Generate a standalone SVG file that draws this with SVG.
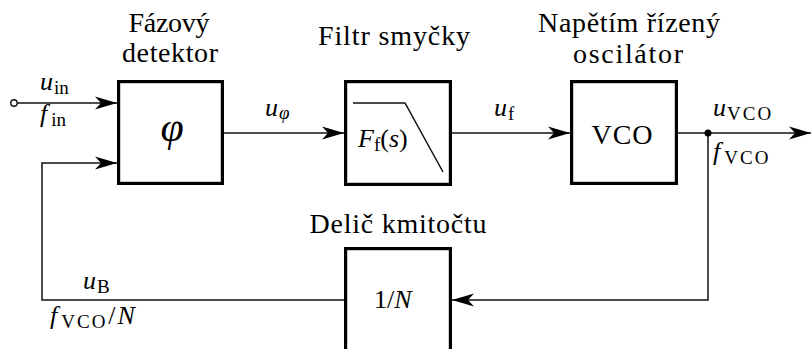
<svg xmlns="http://www.w3.org/2000/svg" width="811" height="349" viewBox="0 0 811 349" font-family="'Liberation Serif', 'DejaVu Serif', serif">
<style>
text{font-family:'Liberation Serif','DejaVu Serif',serif;fill:#000;font-weight:normal}
.h{font-size:28px;text-anchor:middle}
.m{font-size:26px}
.i{font-style:italic}
.s{font-size:19px}
.v{font-size:19px;letter-spacing:2px}
.box{fill:none;stroke:#000;stroke-width:3.2}
.ln{fill:none;stroke:#111;stroke-width:1.5}
</style>
<defs>
<marker id="arr" markerUnits="userSpaceOnUse" viewBox="-23 -8 24 16" refX="0" refY="0" markerWidth="24" markerHeight="16" orient="auto">
<path d="M0,0 L-22,-6.5 L-16,0 L-22,6.5 Z" fill="#000"/>
</marker>
</defs>
<g id="connectors">
<circle cx="14" cy="103" r="3.2" fill="#fff" stroke="#111" stroke-width="1.4"/>
<path class="ln" d="M17.2,103 H117" marker-end="url(#arr)"/>
<path class="ln" d="M344,300 H42 V163 H117" marker-end="url(#arr)"/>
<path class="ln" d="M223,133 H344" marker-end="url(#arr)"/>
<path class="ln" d="M452,133 H570" marker-end="url(#arr)"/>
<path class="ln" d="M678,133 H811" marker-end="url(#arr)"/>
<path class="ln" d="M708,133 V300 H452" marker-end="url(#arr)"/>
<circle cx="708" cy="133" r="3.5" fill="#000"/>
</g>
<g id="labels">
<text class="m" x="40" y="90"><tspan class="i">u</tspan><tspan class="s" dx="1" dy="3.5">in</tspan></text>
<text class="m" x="40" y="122"><tspan class="i">f</tspan><tspan class="s" dx="4" dy="4">in</tspan></text>
<text class="m" x="265" y="116"><tspan class="i">u</tspan><tspan class="s i" dx="1" dy="3">φ</tspan></text>
<text class="m" x="494" y="116"><tspan class="i">u</tspan><tspan class="s" dx="1" dy="3.5">f</tspan></text>
<text class="m" x="713" y="116"><tspan class="i">u</tspan><tspan class="v" dx="1" dy="4">VCO</tspan></text>
<text class="m" x="713" y="160"><tspan class="i">f</tspan><tspan class="v" dx="4" dy="4">VCO</tspan></text>
<text class="m" x="83" y="289"><tspan class="i">u</tspan><tspan class="s" dx="1" dy="3.5">B</tspan></text>
<text class="m" x="50" y="324"><tspan class="i">f</tspan><tspan class="v" dx="4" dy="4">VCO</tspan><tspan dx="1" dy="-4">/</tspan><tspan class="i" dx="2">N</tspan></text>
</g>
<g id="phase-detector">
<rect class="box" x="118.6" y="81.6" width="103.8" height="101.8"/>
<text class="h" x="169" y="32" textLength="81">Fázový</text>
<text class="h" x="170" y="62" textLength="96">detektor</text>
<text x="172" y="141" font-size="42" font-style="italic" text-anchor="middle">φ</text>
</g>
<g id="loop-filter">
<rect class="box" x="345.6" y="81.6" width="104.8" height="102.8"/>
<text class="h" x="394" y="45" textLength="152">Filtr smyčky</text>
<path class="ln" d="M353,103 H405 L443,172" stroke="#000"/>
<text class="m" x="358" y="147"><tspan class="i">F</tspan><tspan class="s" dy="3.5">f</tspan><tspan dy="-3.5">(</tspan><tspan class="i">s</tspan><tspan>)</tspan></text>
</g>
<g id="vco">
<rect class="box" x="571.6" y="81.6" width="104.8" height="101.8"/>
<text class="h" x="629" y="32" textLength="182">Napětím řízený</text>
<text class="h" x="628" y="63" textLength="110">oscilátor</text>
<text class="h" x="622" y="144" textLength="61">VCO</text>
</g>
<g id="divider">
<rect class="box" x="345.6" y="248.6" width="104.8" height="120"/>
<text class="h" x="398" y="233" textLength="177">Delič kmitočtu</text>
<text class="m" x="374" y="308">1/<tspan class="i">N</tspan></text>
</g>
</svg>
